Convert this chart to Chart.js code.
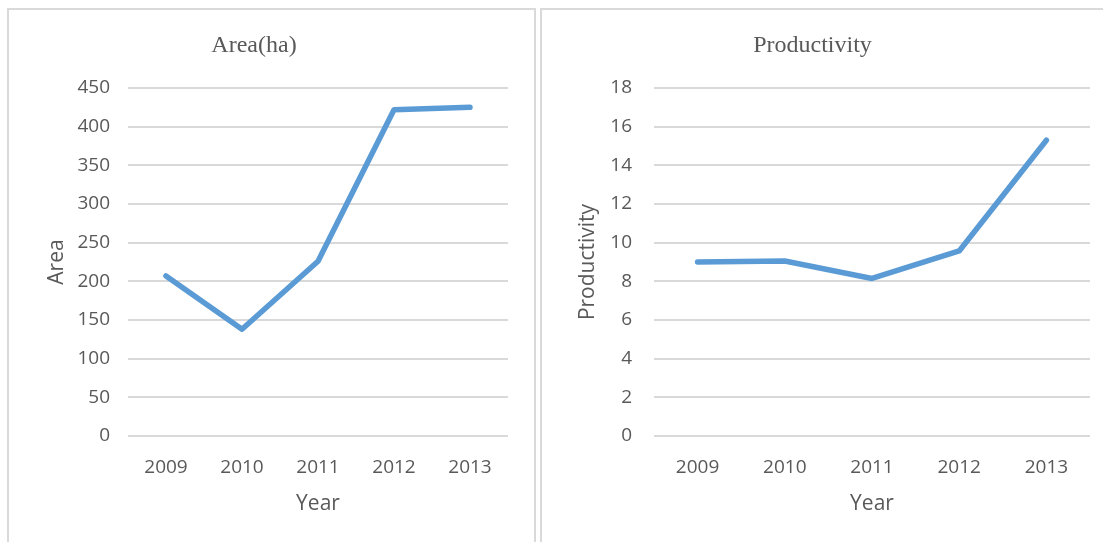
<!DOCTYPE html>
<html lang="en">
<head>
  <meta charset="UTF-8" />
  <title>Area and Productivity</title>
  <script src="https://cdn.jsdelivr.net/npm/chart.js@4.4.0/dist/chart.umd.min.js"></script>
  <style>
    body { margin: 0; background: #fff; width: 1103px; height: 542px; overflow: hidden; position: relative; }
    .panel { position: absolute; border: 2px solid #d9d9d9; box-sizing: border-box; }
    #p1 { left: 7px; top: 8px; width: 529px; height: 560px; }
    #p2 { left: 540px; top: 8px; width: 580px; height: 560px; }
    canvas { position: absolute; top: 0; }
    #areaChart { left: 0; }
    #prodChart { left: 535px; }
  </style>
</head>
<body>
  <div class="panel" id="p1"></div>
  <div class="panel" id="p2"></div>
  <canvas id="areaChart" width="535" height="542"></canvas>
  <canvas id="prodChart" width="568" height="542"></canvas>

  <script>
    // data
    const years = ['2009', '2010', '2011', '2012', '2013'];
    const area = [207, 138, 226, 422, 425];
    const productivity = [9.0, 9.05, 8.15, 9.57, 15.3];

    const textColor = '#595959';
    const gridColor = '#d9d9d9';
    const lineColor = '#5b9bd5';

    function makeChart(id, title, yTitle, values, yMax, yStep, box) {
      return new Chart(document.getElementById(id), {
        type: 'line',
        data: {
          labels: years,
          datasets: [{
            label: yTitle,
            data: values,
            borderColor: lineColor,
            borderWidth: 5.5,
            borderCapStyle: 'round',
            borderJoinStyle: 'round',
            pointRadius: 0,
            tension: 0,
            fill: false
          }]
        },
        options: {
          responsive: false,
          animation: false,
          layout: { padding: { left: 0, right: box.rightPad, top: 0, bottom: 0 } },
          plugins: {
            legend: { display: false },
            tooltip: { enabled: false },
            title: {
              display: true,
              text: title,
              color: textColor,
              font: { family: '"Liberation Serif", "Times New Roman", serif', size: 24, weight: 'normal', lineHeight: 1.2 },
              padding: { top: 31.6, bottom: 27.6 }
            }
          },
          scales: {
            x: {
              offset: true,
              grid: { display: false, drawTicks: false },
              border: { display: false },
              ticks: {
                color: textColor,
                padding: 20,
                font: { family: '"Open Sans", sans-serif', size: 19 }
              },
              title: {
                display: true,
                text: 'Year',
                color: textColor,
                font: { family: '"Open Sans", sans-serif', size: 21 },
                padding: { top: 0, bottom: 25.4 }
              },
              afterFit: s => { s.height = 106; }
            },
            y: {
              min: 0,
              max: yMax,
              grid: { color: gridColor, lineWidth: 2, drawTicks: false },
              border: { display: false },
              ticks: {
                stepSize: yStep,
                color: textColor,
                padding: box.tickPad,
                font: { family: '"Open Sans", sans-serif', size: 19 }
              },
              title: {
                display: true,
                text: yTitle,
                color: textColor,
                font: { family: '"Open Sans", sans-serif', size: 21 },
                padding: { top: box.titlePad, bottom: 0 }
              },
              afterFit: s => { s.width = box.left; }
            }
          }
        }
      });
    }

    makeChart('areaChart', 'Area(ha)', 'Area', area, 450, 50,
      { left: 128, rightPad: 27, tickPad: 18, titlePad: 44 });
    makeChart('prodChart', 'Productivity', 'Productivity', productivity, 18, 2,
      { left: 119, rightPad: 13, tickPad: 22, titlePad: 40 });
  </script>
</body>
</html>
